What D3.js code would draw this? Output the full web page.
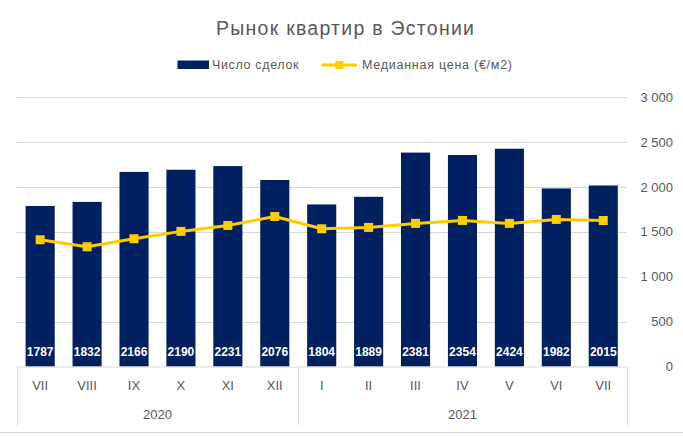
<!DOCTYPE html>
<html><head><meta charset="utf-8">
<script src="https://cdnjs.cloudflare.com/ajax/libs/d3/7.8.5/d3.min.js"></script>
<style>
body{margin:0;background:#fff;}
svg{display:block;font-family:"Liberation Sans",Arial,sans-serif;}
</style></head>
<body>
<svg id="chart" width="683" height="436"></svg>
<script>
const months = ["VII","VIII","IX","X","XI","XII","I","II","III","IV","V","VI","VII"];
const years = [{label:"2020", from:0, to:6},{label:"2021", from:6, to:13}];
const deals = [1787,1832,2166,2190,2231,2076,1804,1889,2381,2354,2424,1982,2015];
const price = [1411,1333,1422,1504,1570,1670,1533,1548,1593,1626,1593,1637,1625];
const yTicks = [0,500,1000,1500,2000,2500,3000];
const title = "Рынок квартир в Эстонии";
const legendNames = ["Число сделок","Медианная цена (€/м2)"];

(function(){
const svg = d3.select("#chart");
const pLeft = 16.7, pRight = 626.7, pTop = 97, pBottom = 366.5;
const barColor = "#002060", lineColor = "#FFCC00", textColor = "#595959", gridColor = "#D9D9D9";

const idx = d3.range(months.length);
const x = d3.scaleBand().domain(idx).range([pLeft, pRight]).paddingInner(0.38).paddingOuter(0.19);
const step = (pRight-pLeft)/months.length;
const y = d3.scaleLinear().domain([0,3000]).range([pBottom, pTop]);

// gridlines
svg.append("g").selectAll("line").data(yTicks.filter(d=>d>0)).join("line")
  .attr("x1", pLeft).attr("x2", pRight)
  .attr("y1", d=>Math.round(y(d))+0.5).attr("y2", d=>Math.round(y(d))+0.5)
  .attr("stroke", gridColor).attr("stroke-width",1);

// right axis labels
const fmt = d => d3.format(",")(d).replace(/,/g, "\u00a0");
const yAxis = d3.axisRight(y).tickValues(yTicks).tickFormat(fmt).tickSize(0).tickPadding(0);
const ga = svg.append("g").attr("transform", `translate(673,0)`).call(yAxis);
ga.select(".domain").remove();
ga.selectAll("text").attr("text-anchor","end").attr("fill",textColor)
  .style("font-size","13px").style("font-family","'Liberation Sans',Arial,sans-serif");

// bars
svg.append("g").selectAll("rect").data(deals).join("rect")
  .attr("x",(d,i)=>x(i)).attr("width",x.bandwidth())
  .attr("y",d=>y(d)).attr("height",d=>pBottom-y(d))
  .attr("fill",barColor);

// bar labels
svg.append("g").selectAll("text").data(deals).join("text")
  .attr("x",(d,i)=>x(i)+x.bandwidth()/2).attr("y", pBottom-11)
  .attr("text-anchor","middle").attr("fill","#fff")
  .style("font-size","12px").style("font-weight","bold")
  .text(d=>d);

// x axis line & separators
const gx = svg.append("g");
gx.append("line").attr("x1",pLeft).attr("x2",pRight).attr("y1",pBottom+0.5).attr("y2",pBottom+0.5)
  .attr("stroke",gridColor);
const seps = [0,6,13];
gx.selectAll("line.sep").data(seps).join("line").attr("class","sep")
  .attr("x1",d=>Math.round(pLeft+d*step)+0.5).attr("x2",d=>Math.round(pLeft+d*step)+0.5)
  .attr("y1",pBottom).attr("y2",425).attr("stroke",gridColor);
gx.selectAll("text.m").data(months).join("text").attr("class","m")
  .attr("x",(d,i)=>x(i)+x.bandwidth()/2).attr("y",390)
  .attr("text-anchor","middle").attr("fill",textColor).style("font-size","13px").text(d=>d);
gx.selectAll("text.yr").data(years).join("text").attr("class","yr")
  .attr("x",d=>pLeft+(d.from+d.to)/2*step).attr("y",419)
  .attr("text-anchor","middle").attr("fill",textColor).style("font-size","13px").text(d=>d.label);

// bottom frame line
svg.append("line").attr("x1",0).attr("x2",683).attr("y1",432.5).attr("y2",432.5).attr("stroke",gridColor);

// price line
const line = d3.line().x((d,i)=>x(i)+x.bandwidth()/2).y(d=>y(d));
svg.append("path").datum(price).attr("d",line).attr("fill","none")
  .attr("stroke",lineColor).attr("stroke-width",3).attr("stroke-linejoin","round");
svg.append("g").selectAll("rect").data(price).join("rect")
  .attr("x",(d,i)=>x(i)+x.bandwidth()/2-4.5).attr("y",d=>y(d)-4.5)
  .attr("width",9).attr("height",9).attr("fill",lineColor);

// title
svg.append("text").attr("x",216).attr("y",35)
  .attr("textLength",258).attr("lengthAdjust","spacing")
  .attr("fill",textColor).style("font-size","19.5px").text(title);

// legend
const lg = svg.append("g");
lg.append("rect").attr("x",177.5).attr("y",60.5).attr("width",31.5).attr("height",8.5).attr("fill",barColor);
lg.append("text").attr("x",212).attr("y",69).attr("textLength",86.5).attr("lengthAdjust","spacing")
  .attr("fill",textColor).style("font-size","12.5px").text(legendNames[0]);
lg.append("line").attr("x1",322).attr("x2",357).attr("y1",65).attr("y2",65).attr("stroke",lineColor).attr("stroke-width",3);
lg.append("rect").attr("x",335.5).attr("y",61).attr("width",8).attr("height",8).attr("fill",lineColor);
lg.append("text").attr("x",362).attr("y",69).attr("textLength",150).attr("lengthAdjust","spacing")
  .attr("fill",textColor).style("font-size","12.5px").text(legendNames[1]);
})();
</script>
</body></html>
